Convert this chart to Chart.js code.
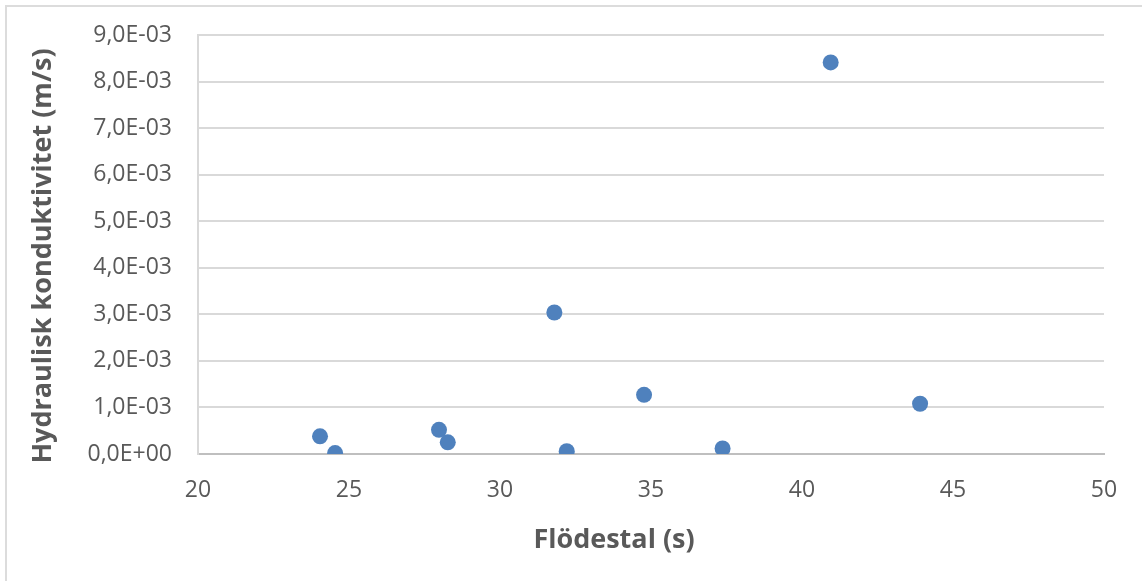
<!DOCTYPE html>
<html>
<head>
<meta charset="utf-8">
<script src="https://cdn.jsdelivr.net/npm/chart.js@4.4.1/dist/chart.umd.min.js"></script>
<style>
  html, body { margin: 0; padding: 0; background: #fff; }
  #frame { position: absolute; left: 5px; top: 5px; width: 1150px; height: 590px;
           border-left: 2px solid #dcdcdc; border-top: 2px solid #dcdcdc; box-sizing: border-box; }
  #wrap { position: absolute; left: 0; top: 0; width: 1142px; height: 581px; }
</style>
</head>
<body>
<div id="frame"></div>
<div id="wrap"><canvas id="chart" width="1142" height="581"></canvas></div>
<script>
// Flow number (s) vs hydraulic conductivity (m/s)
const flodestal = [24.04, 24.54, 27.98, 28.27, 31.80, 32.21, 34.77, 37.37, 40.95, 43.91];
const konduktivitet = [0.38e-3, 0.02e-3, 0.52e-3, 0.25e-3, 3.04e-3, 0.06e-3, 1.27e-3, 0.12e-3, 8.41e-3, 1.08e-3];

const xTitle = 'Flödestal (s)';
const yTitle = 'Hydraulisk konduktivitet (m/s)';

const textColor = '#595959';
const fontFamily = "'Open Sans', 'Liberation Sans', sans-serif";

// Excel-style scientific label, e.g. 3,0E-03
function sciLabel(v) {
    if (Math.abs(v) < 1e-12) return '0,0E+00';
    const [mant, exp] = v.toExponential(1).split('e');
    const n = parseInt(exp, 10);
    const sign = n < 0 ? '-' : '+';
    return mant.replace('.', ',') + 'E' + sign + String(Math.abs(n)).padStart(2, '0');
}

// Axis titles drawn by hand so they sit where the workbook put them
const axisTitles = {
    id: 'axisTitles',
    afterDraw(chart) {
        const ctx = chart.ctx;
        ctx.save();
        ctx.fillStyle = textColor;
        ctx.font = 'bold 27px ' + fontFamily;
        ctx.textAlign = 'center';
        ctx.textBaseline = 'middle';
        ctx.fillText(xTitle, 614, 540);
        ctx.translate(43, 256);
        ctx.rotate(-Math.PI / 2);
        ctx.fillText(yTitle, 0, 0);
        ctx.restore();
    }
};

const points = flodestal.map((x, i) => ({ x: x, y: konduktivitet[i] }));

new Chart(document.getElementById('chart'), {
    type: 'scatter',
    data: {
        datasets: [{
            data: points,
            backgroundColor: '#4F81BD',
            borderColor: '#4F81BD',
            pointRadius: 8,
            pointHoverRadius: 8,
            borderWidth: 0
        }]
    },
    options: {
        responsive: false,
        animation: false,
        layout: { padding: { left: 0, top: 35, right: 38, bottom: 0 } },
        plugins: { legend: { display: false }, tooltip: { enabled: false } },
        scales: {
            x: {
                type: 'linear',
                min: 20, max: 50,
                afterFit: s => { s.height = 127; },
                grid: { display: false, drawTicks: false },
                border: { color: '#bfbfbf', width: 2 },
                ticks: {
                    stepSize: 5,
                    padding: 23,
                    color: textColor,
                    font: { family: fontFamily, size: 23 }
                }
            },
            y: {
                min: 0, max: 0.009,
                afterFit: s => { s.width = 198; s.paddingTop = 0; s.paddingBottom = 0; },
                grid: { color: '#d9d9d9', lineWidth: 2, drawTicks: false },
                border: { color: '#d9d9d9', width: 2 },
                ticks: {
                    stepSize: 0.001,
                    padding: 26,
                    color: textColor,
                    font: { family: fontFamily, size: 23 },
                    callback: v => sciLabel(v)
                }
            }
        }
    },
    plugins: [axisTitles]
});
</script>
</body>
</html>
